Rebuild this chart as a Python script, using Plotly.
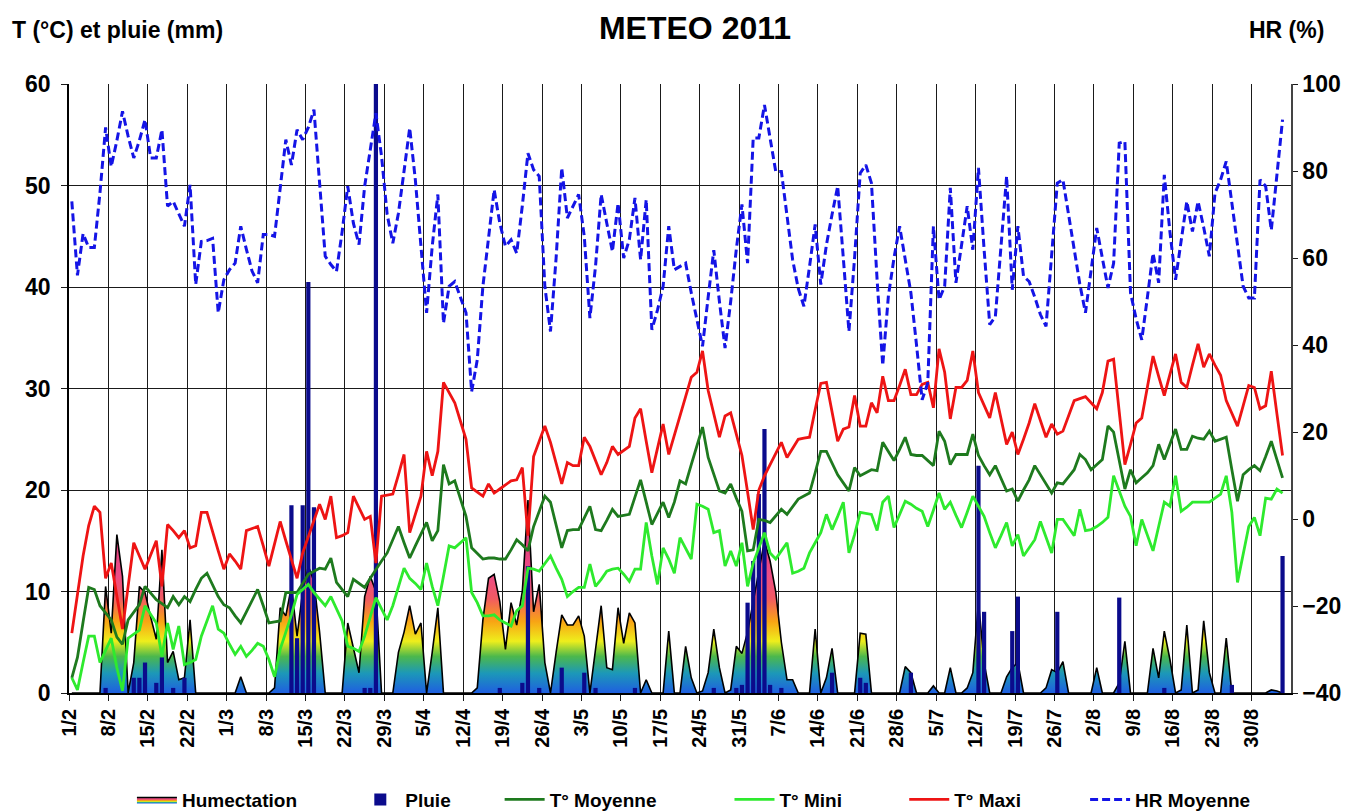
import pandas as pd
import plotly.graph_objects as go

# ---------------- data (one value per day, 1/2/2011 -> 4/9/2011, rows = weeks) ----------------
hr_moyenne = [
    73, 56, 65.6, 62.4, 62.4, 75, 90,
    81, 87, 93.7, 88, 83, 87, 91.8,
    83, 83, 89.5, 71.9, 73, 70, 67.3,
    76.8, 53.9, 63.8, 64, 64.5, 47.4, 55,
    57.3, 58.8, 67.3, 62, 57, 54.3, 65.4,
    65.4, 65, 76, 87.2, 81.4, 89.5, 87.2,
    90, 94.1, 76.5, 60.4, 58.5, 56.9, 66,
    76.5, 68, 63.1, 76.5, 85, 93.3, 83.4,
    70, 63.4, 70.3, 80, 89.9, 78, 62.7,
    47.4, 62.7, 74.6, 45, 53.5, 54.6, 51,
    47.4, 29.3, 36.6, 53.5, 65, 75.7, 68,
    62.7, 64.2, 61.1, 72, 84.1, 80.3, 78.8,
    53.5, 43.1, 60, 80.7, 69.2, 72, 74.6,
    65, 46.2, 58.1, 74.6, 68, 61.5, 72.6,
    60, 64.2, 73.8, 59.6, 73.4, 43.5, 48,
    53.5, 67.3, 57.3, 58, 58.8, 52, 46,
    39.7, 51, 61.8, 50, 39.3, 50, 62,
    72.3, 58.8, 87.6, 87.6, 95.2, 87, 79.9,
    79.9, 70, 59.6, 53, 48.9, 58, 67.7,
    53.9, 63, 70, 76.5, 60, 43.1, 60,
    79.5, 81.4, 77.2, 55, 35.3, 51.2, 60,
    67.3, 60, 52, 40, 27.4, 31.3, 67.3,
    50.4, 53.5, 76.1, 54.3, 63, 71.9, 61.9,
    80.7, 62, 44.7, 46.5, 62, 78.8, 52.7,
    67.3, 55.8, 54.6, 51, 47, 44.3, 60,
    77.2, 78, 70, 62, 54, 47.4, 57,
    66.9, 60, 53.1, 58.8, 86.4, 86.8, 52,
    46, 41.2, 51, 61.1, 54.3, 79.1, 66,
    55, 64, 73, 66.1, 73, 67, 60.4,
    74.9, 78, 82.2, 73, 63, 53.5, 50.8,
    50.8, 78, 76.5, 66.4, 80, 91.8,
]

t_maxi = [
    5.9, 9.5, 13.5, 16.5, 18.4, 17.8, 11.3,
    12.8, 9.5, 6.3, 10.5, 14.8, 13.5, 12.2,
    13.6, 15, 10.5, 16.6, 16, 15.3, 16,
    14.3, 14.5, 17.8, 17.8, 15.8, 14, 12.2,
    13.7, 13, 12.2, 16, 16.2, 16.4, 14.5,
    12.5, 14.7, 16.9, 15, 13.2, 11.3, 13.8,
    15.5, 17, 18.6, 17.1, 19.4, 15.3, 15.5,
    15.8, 19.4, 18.3, 17.1, 17.4, 12.8, 19.4,
    19.5, 19.6, 21.5, 23.5, 15.8, 17.6, 19.4,
    23.8, 21.4, 23.8, 30.6, 29.6, 28.6, 26.8,
    25, 20.2, 19.8, 19.4, 20.6, 19.7, 20.1,
    20.5, 20.9, 21, 22.2, 15.5, 23.3, 24.8,
    26.3, 24.7, 22.6, 20.6, 22.7, 22.4, 22.4,
    25.2, 24.3, 22.9, 21.5, 22.7, 24.3, 23.5,
    23.9, 24.3, 27.1, 28, 24.8, 21.7, 24.1,
    26.5, 23.5, 25.5, 27.3, 29.2, 31.1, 31.6,
    33.7, 29.8, 27.5, 25.2, 27.3, 27.6, 25.5,
    23.4, 19.8, 16.1, 20, 21.4, 22.5, 23.6,
    24.7, 23.2, 24.1, 25, 25.1, 25.2, 27.9,
    30.5, 30.6, 27.7, 24.8, 26, 26.2, 29.3,
    26.3, 26.3, 28.6, 27.6, 31.2, 28.8, 28.8,
    30.3, 31.9, 29.4, 29.4, 30.4, 30.6, 28.1,
    33.9, 31.6, 27, 30.1, 30.1, 30.8, 33.7,
    29.6, 28.3, 27.1, 29.6, 27, 24.5, 25.7,
    23.5, 25, 26.6, 28.5, 26.8, 25.2, 26.5,
    25.5, 25.8, 27.3, 28.8, 29, 29.2, 28.6,
    28, 29.6, 32.7, 32.9, 27.5, 22.5, 24.5,
    26.6, 27.1, 30.2, 33.2, 31.2, 29.3, 31.4,
    33.4, 30.6, 30.1, 32.3, 34.4, 32.1, 33.4,
    32.3, 31.3, 28.8, 27.5, 26.3, 28.3, 30.3,
    30.1, 28, 28.3, 31.7, 27.5, 23.4,
]

t_moyenne = [
    1.5, 3.5, 7, 10.4, 10.2, 8.6, 7.9,
    7.2, 5.5, 4.8, 7.2, 8, 8.7, 10.5,
    9.8, 9.2, 8.8, 8.4, 9.5, 8.7, 9.5,
    9, 10.2, 11.3, 11.8, 10.7, 9.5, 8.7,
    8.4, 7.6, 6.9, 8, 9.1, 10.2, 8.6,
    6.9, 7, 7.1, 9.9, 9.9, 9.9, 10.8,
    11.7, 12, 12.3, 12.2, 13.3, 10.9, 10.2,
    9.5, 11.2, 10.8, 10.4, 11.3, 12.2, 13,
    13.8, 15.1, 16.4, 14.8, 13.3, 14.5, 15.7,
    16.8, 15, 16, 22.5, 20.6, 20.9, 19.2,
    17.4, 14.3, 13.7, 13.2, 13.3, 13.3, 13.2,
    13.2, 14.1, 15.1, 14.6, 14, 16.4, 17.9,
    19.4, 18.8, 16.5, 14.3, 16, 16.1, 16.1,
    17.3, 18.4, 16.1, 16, 17, 18.1, 17.4,
    17.5, 17.6, 19.3, 21, 18.8, 16.6, 17.7,
    18.8, 17.3, 18.8, 20.9, 20.6, 22.5, 24.4,
    26.2, 23.2, 21.5, 19.9, 19.7, 20.6, 19.2,
    17.9, 14, 14.1, 17.1, 17, 16.8, 17.4,
    18.1, 17.6, 18.3, 19.1, 19.4, 19.7, 21.7,
    23.8, 23.8, 22.6, 21.5, 20.7, 19.9, 22.2,
    21.4, 21.7, 22, 21.9, 24.7, 23.8, 22.9,
    24, 25.2, 23.5, 23.4, 23.4, 22.9, 22.4,
    25.8, 24.8, 22.5, 23.5, 23.5, 23.5, 25.5,
    23.4, 22.4, 21.5, 22.4, 21.2, 19.9, 20.1,
    18.9, 20, 21, 22.4, 21.5, 20.6, 19.7,
    20.7, 20.6, 21.3, 22, 23.5, 23, 22,
    22.5, 23, 26.3, 25.7, 22.9, 20.1, 22,
    20.7, 21.2, 21.7, 22.4, 24.5, 23, 24.5,
    26, 24, 24, 25.3, 25.1, 25, 25.8,
    24.8, 25, 25.2, 22, 18.9, 21.5, 22,
    22.4, 21.9, 23.3, 24.8, 23, 21.2,
]

t_mini = [
    1.5, 0.3, 3, 5.6, 5.6, 3, 4.2,
    5.4, 2.5, 0.2, 5.4, 5.8, 6.2, 8.6,
    7.7, 6.9, 3.6, 6.9, 4.3, 6.6, 2.8,
    3, 3.3, 5.6, 7.1, 8.6, 6.3, 5.9,
    4.8, 3.8, 4.6, 3.6, 4.2, 4.9, 4.6,
    3.3, 1.6, 4.3, 6, 7.7, 9.7, 10.2,
    10.7, 9.9, 9.2, 8.6, 9.5, 8.3, 7.1,
    4.6, 4.4, 4.1, 5.6, 7.5, 9.4, 8.3,
    7.2, 8.6, 10.5, 12.3, 11.3, 10.8, 10.2,
    12.8, 10.5, 8.6, 11.5, 14.5, 14.3, 14.8,
    15.3, 9.9, 8.9, 7.6, 7.6, 7.7, 7.2,
    6.9, 6.6, 8.1, 8.6, 12.3, 12.2, 12,
    12.7, 13.5, 12.3, 11.2, 9.5, 10, 10.4,
    10.4, 12.7, 10.5, 11.2, 12, 12.2, 12.3,
    11.7, 11, 12.2, 12.2, 16.8, 13.5, 10.7,
    14.3, 13.2, 11.8, 15.3, 14.2, 13.2, 18.6,
    18.4, 18.1, 15.8, 16, 12.5, 14, 12.5,
    14.8, 10.5, 12.8, 14.3, 15.8, 13.8, 13.2,
    14, 14.8, 11.8, 12, 12.3, 13.8, 14.8,
    15.8, 17.6, 16.1, 17.4, 18.8, 13.8, 15.6,
    17.8, 17.7, 17.6, 16, 18.8, 19.4, 16.3,
    17.6, 18.9, 18.6, 18.2, 17.9, 16.4, 18,
    19.7, 18.1, 18.8, 17.5, 16.3, 17.8, 19.4,
    18.4, 17.4, 15.8, 14.3, 15.5, 16.8, 14.5,
    15.6, 13.5, 14.3, 15.1, 16.9, 15.3, 13.8,
    17.1, 17.1, 16.3, 15.5, 18.1, 16, 16.1,
    16.4, 16.8, 17.3, 21.4, 19.9, 18.4, 17.4,
    14.5, 17.1, 15.5, 14, 16.4, 18.8, 18.4,
    21.4, 17.9, 18.3, 18.8, 18.8, 18.8, 18.8,
    19.2, 19.6, 21.4, 17.8, 10.9, 13.6, 16.4,
    17.3, 15.5, 19.2, 19.1, 20.1, 19.7,
]

humectation = [
    0, 0, 0, 0, 0, 0, 10.5,
    5.9, 15.6, 11.5, 0, 3, 10.5, 9.9,
    7.5, 5.3, 14.1, 3, 4.1, 1.3, 1.5,
    7.2, 0, 0, 0, 0, 0, 0,
    0, 0, 1.6, 0, 0, 0, 0,
    0, 0.5, 8.4, 7.6, 10.5, 5.6, 10,
    12.5, 11, 6, 0, 0, 0, 0,
    6.9, 4.5, 2, 9.5, 11.5, 10, 0,
    0, 0, 4, 6, 8.6, 5.8, 6.9,
    0, 4, 8.4, 0, 0, 0, 0,
    0, 0, 0.5, 7.2, 11.3, 11.7, 9,
    4.3, 8.9, 6.7, 10, 19, 8, 10.7,
    3, 0, 4, 7.7, 6.7, 6.7, 7.6,
    5.6, 0, 4.5, 8.6, 2.5, 2.3, 8.4,
    4.9, 7.9, 6.9, 0, 1.3, 0, 0,
    0, 6.1, 0, 0, 4.6, 1.5, 0,
    0.2, 2, 6.3, 2.5, 0, 0.3, 4.6,
    3.9, 6, 9, 12, 15, 13, 10,
    5, 1.3, 1.3, 0, 0, 0, 6.3,
    0, 1.5, 4.4, 0, 0, 0, 0,
    5.9, 5.8, 0, 0, 0, 0, 0,
    0, 2.6, 2, 0, 0, 0, 0.7,
    0, 0, 2.5, 0, 0, 0.5, 2,
    9, 3, 0, 0, 0, 1.6, 2.5,
    3, 0, 0, 0, 0, 0.5, 2.3,
    2, 3.1, 0, 0, 0, 0, 0,
    2.5, 0, 0, 0, 1, 5.1, 0,
    0, 0, 0, 4.4, 1.5, 6.1, 3.3,
    0, 0.3, 6.7, 0, 0.3, 7.1, 2,
    0, 0, 5.4, 0, 0, 0, 0,
    0, 0, 0, 0.3, 0.2, 0,
]

pluie = [
    0, 0, 0, 0, 0, 0, 0.5,
    0, 0, 0, 0, 1.5, 1.5, 3,
    0, 1, 3.5, 0, 0.5, 0, 1.5,
    0, 0, 0, 0, 0, 0, 0,
    0, 0, 0, 0, 0, 0, 0,
    0, 0, 0, 0, 18.5, 5.4, 18.5,
    40.5, 18.3, 0, 0, 0, 0, 0,
    0, 0, 0, 0.5, 0.5, 61, 0,
    0, 0, 0, 0, 0, 0, 0,
    0, 0, 0, 0, 0, 0, 0,
    0, 0, 0, 0, 0, 0, 0.5,
    0, 0, 0, 1, 12.5, 0, 0.5,
    0, 0, 0, 2.5, 0, 0, 0,
    2, 0, 0.5, 0, 0, 0, 0,
    0, 0, 0.5, 0, 0, 0, 0,
    0, 0, 0, 0, 0, 0, 0,
    0, 0, 0.5, 0, 0, 0, 0.5,
    0.8, 8.9, 13, 19.6, 26, 0.8, 0,
    0.5, 0, 0, 0, 0, 0, 0,
    0, 0, 2, 0, 0, 0, 0,
    1.5, 1, 0, 0, 0, 0, 0,
    0, 0, 2, 0, 0, 0, 0,
    0, 0, 0, 0, 0, 0, 0,
    22.4, 8, 0, 0, 0, 0, 6.1,
    9.5, 0, 0, 0, 0, 0, 0,
    8, 0, 0, 0, 0, 0, 0,
    0, 0, 0, 0, 9.4, 0, 0,
    0, 0, 0, 0, 0, 0.5, 0,
    0, 0, 0, 0, 0, 0, 0,
    0, 0, 0, 0.8, 0, 0, 0,
    0, 0, 0, 0, 0, 13.5,
]

tick_labels = ["1/2", "8/2", "15/2", "22/2", "1/3", "8/3", "15/3", "22/3", "29/3",
               "5/4", "12/4", "19/4", "26/4", "3/5", "10/5", "17/5", "24/5", "31/5",
               "7/6", "14/6", "21/6", "28/6", "5/7", "12/7", "19/7", "26/7", "2/8",
               "9/8", "16/8", "23/8", "30/8"]

N_DAYS = 216
for arr in (hr_moyenne, t_maxi, t_moyenne, t_mini, humectation, pluie):
    assert len(arr) == N_DAYS, len(arr)

days = pd.date_range("2011-02-01 12:00", periods=N_DAYS, freq="D")
tick_dates = pd.date_range("2011-02-01", periods=len(tick_labels), freq="7D")
DAY_MS = 86400000

FONT = "Liberation Sans, Arial, sans-serif"
HUM_SCALE = [
    [0.0, "#1f5fe0"], [0.13, "#1c98b8"], [0.24, "#4cb84c"], [0.34, "#eeee1c"],
    [0.47, "#f8a414"], [0.62, "#f25a62"], [0.78, "#ec4c88"], [1.0, "#e2407a"],
]

fig = go.Figure()
fig.add_trace(go.Scatter(
    x=days, y=humectation, name="Humectation", mode="lines",
    line=dict(color="black", width=1.6), fill="tozeroy",
    fillgradient=dict(type="vertical", colorscale=HUM_SCALE, start=0, stop=15),
    yaxis="y", legend="legend"))
fig.add_trace(go.Bar(
    x=days, y=pluie, name="Pluie", width=0.75 * DAY_MS,
    marker=dict(color="#0b0b8c", line=dict(width=0)),
    yaxis="y2", legend="legend2"))
fig.add_trace(go.Scatter(
    x=days, y=t_moyenne, name="T° Moyenne", mode="lines",
    line=dict(color="#1e7a1e", width=2.8), yaxis="y3", legend="legend3"))
fig.add_trace(go.Scatter(
    x=days, y=t_mini, name="T° Mini", mode="lines",
    line=dict(color="#2eea2e", width=2.8), yaxis="y3", legend="legend4"))
fig.add_trace(go.Scatter(
    x=days, y=t_maxi, name="T° Maxi", mode="lines",
    line=dict(color="#ee1414", width=2.8), yaxis="y3", legend="legend5"))
fig.add_trace(go.Scatter(
    x=days, y=hr_moyenne, name="HR Moyenne", mode="lines",
    line=dict(color="#1414e6", width=3, dash="8px,4px"), yaxis="y4", legend="legend6"))

tick_font = dict(family=FONT, size=23, color="black", weight="bold")
leg_font = dict(family=FONT, size=19, color="black", weight="bold")


def legend_at(x):
    return dict(x=x, y=-0.175, xanchor="left", yanchor="middle", orientation="h",
                font=leg_font, bgcolor="rgba(0,0,0,0)", itemwidth=40)


fig.update_layout(
    width=1361, height=811,
    margin=dict(l=69, r=70, t=84, b=118, autoexpand=False),
    paper_bgcolor="white", plot_bgcolor="white",
    font=dict(family=FONT, color="black"),
    title=dict(text="METEO 2011", x=695 / 1361, xanchor="center", xref="container",
               y=1 - 28 / 811, yanchor="middle", yref="container",
               font=dict(family=FONT, size=32, color="black", weight="bold")),
    showlegend=True,
    legend=legend_at(0.0515),
    legend2=legend_at(0.2343),
    legend3=legend_at(0.3524),
    legend4=legend_at(0.5405),
    legend5=legend_at(0.6835),
    legend6=legend_at(0.8315),
    xaxis=dict(type="date", range=["2011-02-01", "2011-09-06"], automargin=False,
               tickvals=tick_dates, ticktext=tick_labels, tickangle=-90,
               tickfont=dict(family=FONT, size=20, color="black", weight="bold"),
               showgrid=True, gridcolor="#1a1a1a", gridwidth=1,
               ticks="outside", ticklen=6, tickcolor="#1a1a1a",
               showline=True, linecolor="black", linewidth=1.5, mirror=False),
    yaxis=dict(range=[0, 60], dtick=10, tickfont=tick_font, automargin=False,
               showgrid=True, gridcolor="#1a1a1a", gridwidth=1, zeroline=False,
               ticks="outside", ticklen=6, tickcolor="#1a1a1a", ticklabelstandoff=6,
               showline=True, linecolor="black", linewidth=1.5),
    yaxis2=dict(range=[0, 60], overlaying="y", visible=False),
    yaxis3=dict(range=[0, 60], overlaying="y", visible=False),
    yaxis4=dict(range=[-40, 100], dtick=20, overlaying="y", side="right",
                tickfont=tick_font, showgrid=False, zeroline=False, automargin=False,
                ticks="outside", ticklen=5, tickcolor="#1a1a1a",
                showline=True, linecolor="#444", linewidth=1.5),
    annotations=[
        dict(text="T (°C) et pluie (mm)", xref="paper", yref="paper",
             x=-0.0486, y=1.089, xanchor="left", yanchor="middle", showarrow=False,
             font=dict(family=FONT, size=23, color="black", weight="bold")),
        dict(text="HR (%)", xref="paper", yref="paper",
             x=1.029, y=1.089, xanchor="right", yanchor="middle", showarrow=False,
             font=dict(family=FONT, size=23, color="black", weight="bold")),
    ],
)

fig.write_html("out.html", config={"displayModeBar": False})
with open("out.html", encoding="utf-8") as f:
    html = f.read()
html = html.replace("<body>", '<body style="margin:0;overflow:hidden">', 1)
with open("out.html", "w", encoding="utf-8") as f:
    f.write(html)
